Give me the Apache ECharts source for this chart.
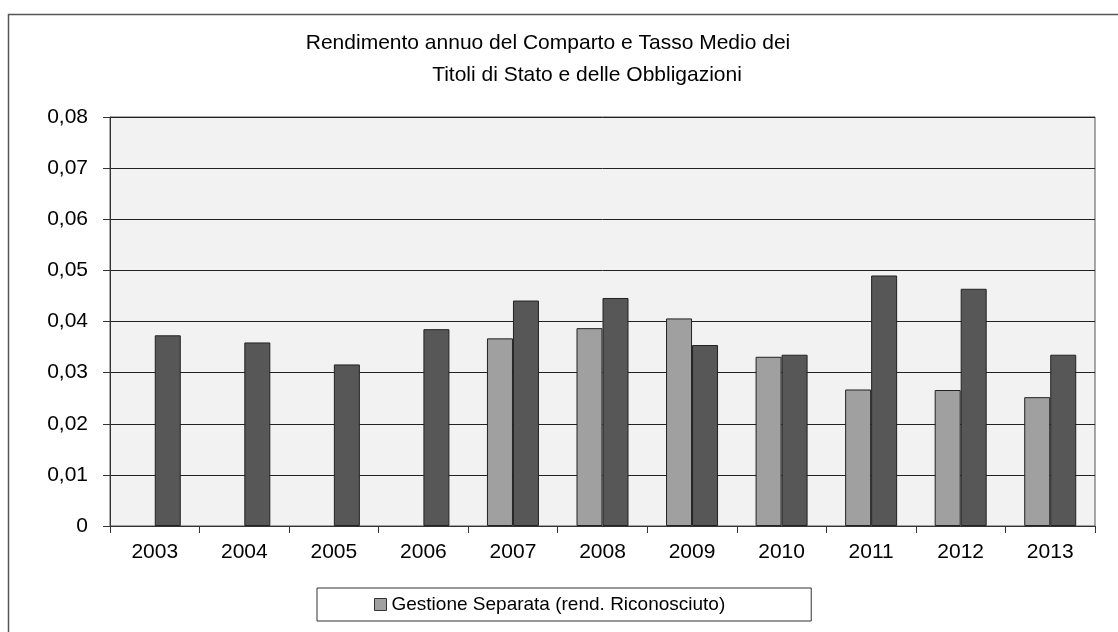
<!DOCTYPE html>
<html>
<head>
<meta charset="utf-8">
<script src="https://cdn.jsdelivr.net/npm/echarts@6/dist/echarts.min.js"></script>
<style>
  html, body { margin: 0; padding: 0; background: #fff; }
  #chart { width: 1118px; height: 632px; }
</style>
</head>
<body>
<div id="chart"></div>
<script>
// data
const years = ['2003', '2004', '2005', '2006', '2007', '2008', '2009', '2010', '2011', '2012', '2013']
const gestioneSeparata = [null, null, null, null, 0.0367, 0.0387, 0.0406, 0.0331, 0.0267, 0.0266, 0.0252]
const tassoMedio = [0.0373, 0.0359, 0.0316, 0.0385, 0.0441, 0.0446, 0.0354, 0.0335, 0.0490, 0.0464, 0.0335]
const titleLines = ['Rendimento annuo del Comparto e Tasso Medio dei', 'Titoli di Stato e delle Obbligazioni']

const font = 'Liberation Sans, Arial, sans-serif'

const chart = echarts.init(document.getElementById('chart'), null, { renderer: 'canvas' })

const option = {
  backgroundColor: '#fff',
  animation: false,
  textStyle: { fontFamily: font },
  title: [
    {
      text: titleLines[0],
      left: 548,
      top: 33,
      textAlign: 'center',
      padding: 0,
      textStyle: { fontSize: 21, fontWeight: 'normal', color: '#000', fontFamily: font },
    },
    {
      text: titleLines[1],
      left: 587,
      top: 65,
      textAlign: 'center',
      padding: 0,
      textStyle: { fontSize: 21, fontWeight: 'normal', color: '#000', fontFamily: font },
    },
  ],
  // outer frame
  graphic: [
    {
      type: 'rect',
      shape: { x: 8.5, y: 14.5, width: 1130, height: 640 },
      style: { fill: 'none', stroke: '#555', lineWidth: 1.5 },
      silent: true,
      z: -1,
    },
  ],
  legend: {
    data: ['Gestione Separata (rend. Riconosciuto)'],
    left: 317,
    top: 588,
    padding: [7, 86, 7, 57],
    itemWidth: 12,
    itemHeight: 12,
    itemGap: 4,
    icon: 'rect',
    borderColor: '#333',
    borderWidth: 1,
    backgroundColor: '#fff',
    itemStyle: { borderColor: '#333', borderWidth: 1 },
    textStyle: { fontSize: 19, color: '#000', fontFamily: font, padding: [0, 0, 0, 0] },
  },
  grid: {
    left: 110,
    right: 23,
    top: 117,
    bottom: 106,
    show: true,
    backgroundColor: '#f2f2f2',
    borderColor: '#555',
    borderWidth: 1,
  },
  xAxis: {
    type: 'category',
    data: years,
    axisLine: { lineStyle: { color: '#333', width: 1 } },
    axisTick: { show: true, length: 7, alignWithLabel: false, lineStyle: { color: '#333' } },
    axisLabel: { fontSize: 21, color: '#000', margin: 16, fontFamily: font },
  },
  yAxis: {
    type: 'value',
    min: 0,
    max: 0.08,
    interval: 0.01,
    axisLine: { show: true, lineStyle: { color: '#333', width: 1 } },
    axisTick: { show: true, length: 7, lineStyle: { color: '#333' } },
    axisLabel: {
      fontSize: 21,
      color: '#000',
      margin: 22,
      fontFamily: font,
      formatter: (v) => (v === 0 ? '0' : v.toFixed(2).replace('.', ',')),
    },
    splitLine: { show: true, lineStyle: { color: '#222', width: 1 } },
  },
  series: [
    {
      name: 'Gestione Separata (rend. Riconosciuto)',
      type: 'bar',
      data: gestioneSeparata,
      barWidth: 26,
      barGap: '0%',
      itemStyle: { color: '#a0a0a0', borderColor: '#222', borderWidth: 1 },
    },
    {
      name: 'Tasso Medio dei Titoli di Stato e delle Obbligazioni',
      type: 'bar',
      data: tassoMedio,
      barWidth: 26,
      barGap: '0%',
      itemStyle: { color: '#575757', borderColor: '#222', borderWidth: 1 },
    },
  ],
}

chart.setOption(option)
</script>
</body>
</html>
